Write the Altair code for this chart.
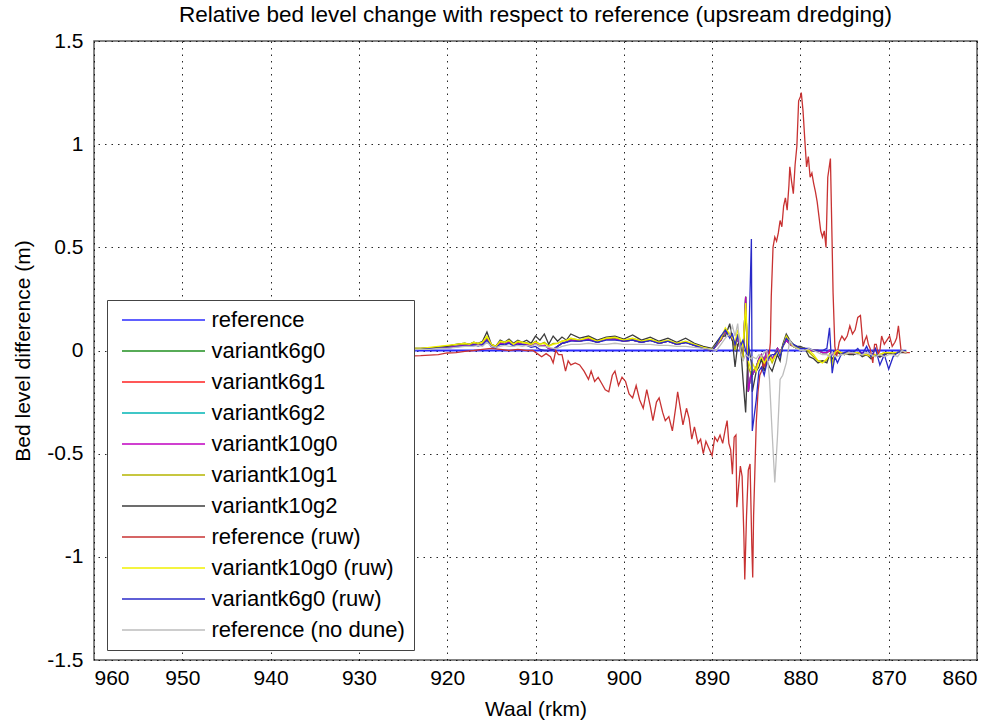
import altair as alt
import pandas as pd

NAMES = ["reference", "variantk6g0", "variantk6g1", "variantk6g2", "variantk10g0",
         "variantk10g1", "variantk10g2", "reference (ruw)", "variantk10g0 (ruw)",
         "variantk6g0 (ruw)", "reference (no dune)"]
COLORS = ["#2b2bff", "#1f8f1f", "#ff2020", "#00b4b4", "#c000c0", "#b4b400", "#3c3c3c",
          "#c83232", "#f0f000", "#2a2ac8", "#bdbdbd"]

X_TICKS = [960, 950, 940, 930, 920, 910, 900, 890, 880, 870, 860]
Y_TICKS = [-1.5, -1, -0.5, 0, 0.5, 1, 1.5]

# reference: zero line
REF_KM = [930, 868.7]
REF_V = [0, 0]

# reference (ruw)
RUW_KM = [930, 926, 923, 922, 921, 920, 919, 918, 917, 916, 915, 914, 913, 912, 911, 910.3,
          909.8, 909.3, 908.8, 908.3, 908.0, 907.7, 907.4, 907.0, 906.6, 906.3, 906.0, 905.5,
          905.0, 904.5, 904.0, 903.7, 903.3, 902.9, 902.5, 902.1, 901.7, 901.3, 901.0, 900.6,
          900.2, 899.8, 899.4, 899.0, 898.6, 898.2, 897.8, 897.4, 897.0, 896.7, 896.3, 896.0,
          895.6, 895.3, 894.9, 894.5, 894.1, 893.9, 893.6, 893.3, 892.9, 892.6, 892.3, 892.0,
          891.6, 891.3, 891.0, 890.7, 890.4, 890.0, 889.7, 889.4, 889.1, 888.8, 888.5, 888.3,
          888.1, 887.9, 887.7, 887.5, 887.3, 887.2, 887.0, 886.8, 886.6, 886.4, 886.3, 886.1,
          885.9, 885.7, 885.5, 885.4, 885.3, 885.1, 885.0, 884.8, 884.6, 884.4, 884.2, 884.0,
          883.8, 883.6, 883.4, 883.3, 883.1, 882.9, 882.7, 882.5, 882.3, 882.1, 881.9, 881.7,
          881.5, 881.3, 881.2, 881.0, 880.8, 880.6, 880.4, 880.2, 880.0, 879.9, 879.7, 879.5,
          879.3, 879.1, 878.9, 878.7, 878.5, 878.3, 878.1, 877.9, 877.7, 877.5, 877.3, 877.1,
          876.9, 876.6, 876.4, 876.3, 876.1, 875.9, 875.6, 875.3, 875.0, 874.7, 874.4, 874.1,
          873.8, 873.5, 873.2, 872.9, 872.7, 872.5, 872.3, 872.1, 871.8, 871.6, 871.4, 871.2,
          871.0, 870.8, 870.5, 870.2, 869.9, 869.6, 869.3, 869.1, 868.9, 868.6, 868.2, 867.6]
RUW_V = [-0.03, -0.03, -0.025, -0.022, -0.02, -0.012, -0.01, -0.004, 0.0, 0.005, 0.01, 0.005,
         0.0, 0.005, 0.0, 0.0, -0.015, -0.03, -0.015, -0.03, -0.06, 0.0, -0.02, -0.02, -0.1,
         -0.05, -0.07, -0.06, -0.07, -0.1, -0.14, -0.1, -0.15, -0.13, -0.16, -0.19, -0.2, -0.12,
         -0.1, -0.17, -0.13, -0.15, -0.21, -0.23, -0.17, -0.24, -0.28, -0.19, -0.27, -0.34,
         -0.25, -0.23, -0.3, -0.34, -0.32, -0.39, -0.27, -0.2, -0.28, -0.36, -0.28, -0.33,
         -0.43, -0.37, -0.45, -0.43, -0.5, -0.44, -0.47, -0.51, -0.42, -0.44, -0.41, -0.45,
         -0.38, -0.34, -0.45, -0.48, -0.6, -0.42, -0.41, -0.76, -0.66, -0.56, -0.61, -0.9,
         -1.11, -0.8, -0.58, -0.55, -0.95, -1.1, -0.8, -0.5, -0.35, -0.2, -0.12, -0.1, -0.06,
         -0.08, -0.03, -0.05, 0.04, 0.26, 0.5, 0.55, 0.53, 0.57, 0.63, 0.6, 0.7, 0.74, 0.68,
         0.8, 0.89, 0.82, 0.76, 0.9, 0.99, 1.21, 1.23, 1.25, 1.16, 1.02, 0.89, 0.94, 0.84,
         0.86, 0.81, 0.77, 0.72, 0.65, 0.58, 0.55, 0.58, 0.5, 0.84, 0.93, 0.5, 0.28, 0.02,
         -0.03, 0.04, 0.07, 0.05, 0.07, 0.12, 0.08, 0.1, 0.16, 0.17, 0.02, 0.05, 0.07, 0.03,
         0.01, -0.06, 0.03, 0.03, -0.02, 0.0, 0.07, 0.03, 0.05, 0.07, 0.02, 0.04, 0.06, 0.12,
         0.0, -0.01, -0.01]

# shared km grid of the variant runs
KM_V = [930, 926, 923, 922, 921, 920, 919, 918, 917.5, 917,
        916.5, 916, 915.5, 915, 914.5, 914, 913.5, 913, 912.5, 912,
        911.5, 911, 910.5, 910, 909.5, 909, 908.5, 908, 907.5, 907,
        906.5, 906, 905, 904, 903, 902, 901, 900, 899, 898,
        897, 896, 895, 894, 893, 892, 891, 890, 889.5, 889,
        888.5, 888, 887.7, 887.4, 887.1, 886.8, 886.5, 886.2, 885.9, 885.55,
        885.45, 885.0, 884.7, 884.4, 884.1, 883.8, 883.5, 883.2, 882.9, 882.6,
        882.3, 882.0, 881.6, 881.2, 880.8, 880.4, 880, 879.5, 879, 878.5,
        878, 877.5, 877, 876.7, 876.4, 876.1, 875.8, 875.4, 875, 874.5,
        874, 873.5, 873, 872.5, 872, 871.5, 871, 870.5, 870, 869.5,
        869, 868.5, 868]

K10G2_V = [0.01, 0.01, 0.01, 0.012, 0.015, 0.02, 0.03, 0.035, 0.03, 0.04,
           0.035, 0.045, 0.09, 0.03, 0.02, 0.05, 0.04, 0.055, 0.035, 0.05,
           0.04, 0.05, 0.035, 0.07, 0.05, 0.08, 0.03, 0.07, 0.045, 0.065,
           0.05, 0.08, 0.06, 0.07, 0.05, 0.065, 0.07, 0.055, 0.075, 0.05,
           0.065, 0.045, 0.06, 0.04, 0.06, 0.035, 0.02, 0.01, 0.04, 0.07,
           0.07, 0.13, 0.05, -0.08, 0.03, 0.04, -0.14, -0.3, 0.03, -0.06,
           -0.2, -0.1, -0.08, -0.04, -0.1, -0.05, -0.08, -0.1, -0.06, -0.02,
           -0.05, 0.03, 0.08, 0.05, 0.03, 0.02, 0.02, 0.01, -0.03, -0.04,
           -0.06, -0.05, -0.06, -0.02, -0.04, -0.02, -0.01, -0.02, -0.01, -0.02,
           -0.02, -0.01, -0.03, -0.02, -0.04, -0.02, -0.03, -0.02, -0.01, -0.02,
           -0.01, -0.01, -0.01]

NODUNE_V = [0.0, 0.0, 0.005, 0.005, 0.01, 0.01, 0.015, 0.02, 0.02, 0.02,
            0.025, 0.02, 0.04, 0.02, 0.015, 0.02, 0.025, 0.02, 0.02, 0.025,
            0.02, 0.025, 0.02, 0.03, 0.02, 0.02, 0.015, 0.01, 0.01, 0.02,
            0.025, 0.03, 0.03, 0.035, 0.03, 0.03, 0.035, 0.03, 0.03, 0.03,
            0.03, 0.025, 0.025, 0.02, 0.02, 0.015, 0.01, 0.005, 0.0, 0.03,
            0.06, 0.08, 0.12, 0.07, 0.13, 0.0, -0.05, -0.02, -0.03, -0.04,
            -0.03, -0.04, -0.02, -0.03, -0.01, 0.0, -0.14, -0.4, -0.64, -0.42,
            -0.14, -0.12, -0.06, 0.05, 0.02, 0.01, 0.0, 0.0, 0.01, 0.0,
            -0.01, -0.02, -0.02, -0.03, -0.01, -0.03, -0.03, -0.02, -0.02, -0.01,
            -0.01, -0.02, -0.02, -0.01, -0.02, -0.03, -0.02, -0.03, -0.02, -0.02,
            -0.03, 0.0, -0.01]

K10G0RUW_V = [0.01, 0.01, 0.01, 0.015, 0.02, 0.025, 0.03, 0.035, 0.03, 0.04,
              0.035, 0.04, 0.07, 0.03, 0.02, 0.045, 0.04, 0.05, 0.03, 0.045,
              0.04, 0.035, 0.03, 0.04, 0.03, 0.035, 0.02, 0.03, 0.035, 0.045,
              0.05, 0.06, 0.05, 0.065, 0.045, 0.06, 0.065, 0.05, 0.06, 0.045,
              0.055, 0.04, 0.05, 0.035, 0.045, 0.03, 0.015, 0.005, 0.03, 0.06,
              0.11, 0.08, 0.06, 0.04, 0.1, 0.05, 0.02, 0.23, -0.05, -0.1,
              -0.06, -0.1, -0.05, -0.03, -0.06, -0.04, -0.02, -0.05, -0.03, 0.0,
              -0.02, 0.02, 0.07, 0.04, 0.02, 0.01, 0.01, 0.01, 0.0, -0.02,
              -0.05, -0.06, -0.04, -0.02, -0.08, -0.01, 0.0, -0.01, -0.02, -0.01,
              -0.01, -0.01, -0.02, -0.02, -0.03, -0.02, -0.02, -0.01, -0.01, -0.01,
              -0.01, 0.0, -0.01]

K10G1_V = [0.01, 0.01, 0.01, 0.013, 0.018, 0.022, 0.028, 0.032, 0.03, 0.038,
           0.032, 0.038, 0.065, 0.028, 0.022, 0.042, 0.038, 0.048, 0.03, 0.042,
           0.038, 0.038, 0.03, 0.045, 0.03, 0.04, 0.022, 0.035, 0.035, 0.045,
           0.048, 0.058, 0.05, 0.062, 0.045, 0.058, 0.062, 0.05, 0.058, 0.045,
           0.052, 0.04, 0.048, 0.035, 0.042, 0.03, 0.015, 0.005, 0.03, 0.055,
           0.1, 0.075, 0.07, 0.0, 0.08, 0.03, -0.05, 0.2, -0.08, -0.12,
           -0.1, -0.08, -0.05, -0.04, -0.07, -0.03, -0.03, -0.06, -0.03, 0.0,
           -0.02, 0.02, 0.065, 0.04, 0.02, 0.015, 0.01, 0.01, -0.01, -0.03,
           -0.05, -0.05, -0.05, -0.02, -0.06, -0.01, -0.01, -0.01, -0.02, -0.01,
           -0.01, -0.01, -0.02, -0.02, -0.03, -0.02, -0.02, -0.01, -0.01, -0.01,
           -0.01, 0.0, -0.01]

K10G0_V = [0.005, 0.005, 0.008, 0.01, 0.012, 0.015, 0.02, 0.025, 0.025, 0.03,
           0.025, 0.03, 0.055, 0.02, 0.015, 0.035, 0.03, 0.04, 0.025, 0.035,
           0.03, 0.03, 0.02, 0.035, 0.02, 0.025, 0.01, 0.005, 0.02, 0.035,
           0.04, 0.05, 0.045, 0.055, 0.04, 0.055, 0.055, 0.045, 0.05, 0.04,
           0.05, 0.035, 0.045, 0.03, 0.04, 0.025, 0.01, 0.0, 0.025, 0.05,
           0.09, 0.08, 0.05, 0.02, 0.06, 0.0, -0.03, 0.26, -0.2, -0.1,
           -0.12, -0.08, -0.04, -0.02, -0.05, 0.0, -0.02, -0.04, -0.02, 0.01,
           -0.01, 0.02, 0.05, 0.03, 0.02, 0.01, 0.01, 0.01, 0.0, 0.0,
           0.0, -0.01, -0.01, 0.0, -0.02, -0.01, 0.0, -0.01, -0.02, -0.01,
           -0.02, -0.01, -0.01, -0.02, -0.03, -0.02, -0.03, -0.02, -0.01, -0.01,
           -0.01, 0.0, -0.01]

# k6 runs lie under the k10g0 run
K6_V = K10G0_V

K6G0RUW_V = [0.005, 0.005, 0.005, 0.008, 0.01, 0.012, 0.018, 0.022, 0.02, 0.028,
             0.022, 0.028, 0.05, 0.02, 0.012, 0.03, 0.028, 0.035, 0.022, 0.03,
             0.028, 0.025, 0.015, 0.02, 0.005, 0.0, 0.0, 0.005, 0.02, 0.035,
             0.04, 0.045, 0.045, 0.05, 0.04, 0.05, 0.05, 0.045, 0.05, 0.04,
             0.048, 0.035, 0.045, 0.03, 0.038, 0.025, 0.01, 0.0, 0.03, 0.07,
             0.1, 0.06, 0.08, 0.03, 0.07, 0.02, 0.05, 0.0, -0.05, 0.54,
             -0.39, -0.24, -0.1, -0.08, -0.12, -0.06, -0.03, -0.02, -0.02, 0.0,
             -0.03, 0.02, 0.06, 0.04, 0.03, 0.02, 0.01, 0.01, 0.01, 0.0,
             0.0, 0.0, 0.01, 0.11, -0.11, -0.03, -0.06, -0.02, -0.01, 0.0,
             -0.01, 0.01, -0.02, 0.02, -0.03, 0.01, -0.07, -0.02, -0.09, -0.03,
             -0.01, 0.0, 0.0]

rows = []
def add(name, kms, vals):
    assert len(kms) == len(vals), (name, len(kms), len(vals))
    for i, (k, v) in enumerate(zip(kms, vals)):
        rows.append({"series": name, "km": k, "v": v, "i": i})

add("variantk6g0", KM_V, K6_V)
add("variantk6g1", KM_V, K6_V)
add("variantk6g2", KM_V, K6_V)
add("variantk10g0", KM_V, K10G0_V)
add("variantk10g1", KM_V, K10G1_V)
add("variantk10g2", KM_V, K10G2_V)
add("reference (ruw)", RUW_KM, RUW_V)
add("variantk10g0 (ruw)", KM_V, K10G0RUW_V)
add("variantk6g0 (ruw)", KM_V, K6G0RUW_V)
add("reference (no dune)", KM_V, NODUNE_V)
others = pd.DataFrame(rows)

ref_df = pd.DataFrame({"series": "reference", "km": REF_KM, "v": REF_V, "i": [0, 1]})

FONT = "Liberation Sans"

color = alt.Color("series:N", scale=alt.Scale(domain=NAMES, range=COLORS),
                  legend=alt.Legend(title=None, orient="none", legendX=13, legendY=259,
                                    symbolType="M-5,0H5", symbolSize=276,
                                    symbolStrokeWidth=1.3, symbolOffset=36.5,
                                    symbolFillColor="transparent",
                                    labelFontSize=22, labelFont=FONT, labelColor="#000",
                                    labelOffset=37, labelLimit=400,
                                    rowPadding=9, padding=9,
                                    fillColor="#ffffff", strokeColor="#444444",
                                    zindex=5))

x = alt.X("km:Q", scale=alt.Scale(domain=[860, 960], reverse=True, nice=False, zero=False),
          axis=alt.Axis(values=X_TICKS, title="Waal (rkm)", format="d",
                        labelPadding=7.5, titlePadding=9.5))
y = alt.Y("v:Q", scale=alt.Scale(domain=[-1.5, 1.5], nice=False, zero=False),
          axis=alt.Axis(values=Y_TICKS, title="Bed level difference (m)",
                        labelExpr="toString(datum.value)", labelPadding=11,
                        titlePadding=13))

ref_layer = alt.Chart(ref_df).mark_line(strokeWidth=2, clip=True).encode(
    x=x, y=y, color=color, order="i:Q")
other_layer = alt.Chart(others).mark_line(strokeWidth=1.3, clip=True).encode(
    x=x, y=y, color=color, order="i:Q")

chart = alt.layer(ref_layer, other_layer).properties(
    width=883, height=619,
    padding={"left": 94, "top": 41, "right": 24, "bottom": 66},
    autosize=alt.AutoSizeParams(type="none"),
    title=alt.TitleParams("Relative bed level change with respect to reference (upsream dredging)",
                          fontSize=22.5, font=FONT, fontWeight="normal", color="#000",
                          offset=4),
).configure_view(stroke="#5c5c5c", strokeWidth=1.5).configure_axis(
    grid=True, gridColor="#000", gridDash=[1.5, 5], gridWidth=1, gridOpacity=0.85,
    domain=False, ticks=False, labelFont=FONT, labelFontSize=21, labelColor="#000",
    titleFont=FONT, titleFontSize=21, titleFontWeight="normal", titleColor="#000",
)

chart.save("out.html", embed_options={"renderer": "svg", "actions": False})
